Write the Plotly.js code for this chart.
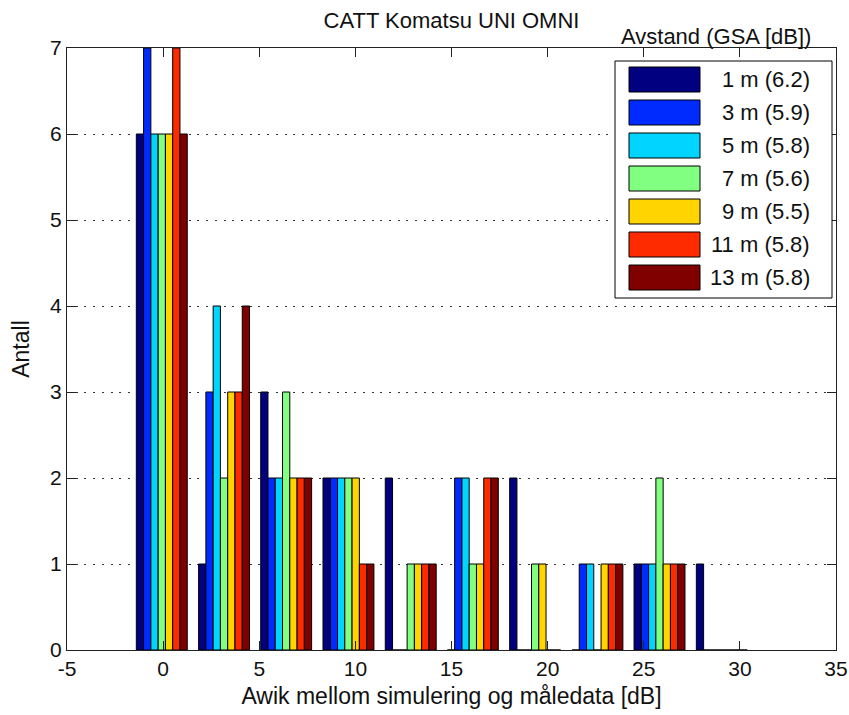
<!DOCTYPE html>
<html>
<head>
<meta charset="utf-8">
<script src="https://cdn.plot.ly/plotly-3.0.1.min.js"></script>
<style>html,body{margin:0;padding:0;background:#fff;}#chart{width:849px;height:715px;}</style>
</head>
<body>
<div id="chart"></div>
<script>
// Bin centres (dB deviation)
var binCenters = [-0.07, 3.17, 6.40, 9.64, 12.88, 16.11, 19.35, 22.59, 25.82, 29.06];
// Series names (distance and GSA)
var seriesNames = ["1 m (6.2)", "3 m (5.9)", "5 m (5.8)", "7 m (5.6)", "9 m (5.5)", "11 m (5.8)", "13 m (5.8)"];
var seriesColors = ["#000080", "#002BFF", "#00D4FF", "#80FF80", "#FFD400", "#FF2B00", "#800000"];
// Counts per bin for each series
var count1m  = [6, 1, 3, 2, 2, 0, 2, 0, 1, 1];
var count3m  = [7, 3, 2, 2, 0, 2, 0, 1, 1, 0];
var count5m  = [6, 4, 2, 2, 0, 2, 0, 1, 1, 0];
var count7m  = [6, 2, 3, 2, 1, 1, 1, 0, 2, 0];
var count9m  = [6, 3, 2, 2, 1, 1, 1, 1, 1, 0];
var count11m = [7, 3, 2, 1, 1, 2, 0, 1, 1, 0];
var count13m = [6, 4, 2, 1, 1, 2, 0, 1, 1, 0];
var allCounts = [count1m, count3m, count5m, count7m, count9m, count11m, count13m];
var xTicks = [-5, 0, 5, 10, 15, 20, 25, 30, 35];
var yTicks = [0, 1, 2, 3, 4, 5, 6, 7];

var FONT = "Liberation Sans, Arial, Helvetica, sans-serif";
var TXT = "#111";

var traces = seriesNames.map(function (name, i) {
  return {
    type: "bar",
    name: name,
    x: binCenters,
    y: allCounts[i],
    marker: { color: seriesColors[i], line: { color: "#000", width: 1 } },
    showlegend: false,
    hoverinfo: "x+y+name"
  };
});

// plot area in pixels
var L = 67, R = 836, T = 48, B = 650, W = 849, H = 715;
function px2x(px) { return (px - L) / (R - L); }
function px2y(py) { return (B - py) / (B - T); }

var shapes = [];
var annotations = [];
// legend box
shapes.push({ type: "rect", xref: "paper", yref: "paper", layer: "above",
  x0: px2x(615), x1: px2x(832), y0: px2y(298), y1: px2y(61),
  line: { color: "#000", width: 1 }, fillcolor: "#fff" });
seriesNames.forEach(function (name, i) {
  var cy = 79.5 + 33 * i;
  shapes.push({ type: "rect", xref: "paper", yref: "paper", layer: "above",
    x0: px2x(629), x1: px2x(700), y0: px2y(cy + 12.5), y1: px2y(cy - 12.5),
    line: { color: "#000", width: 1 }, fillcolor: seriesColors[i] });
  annotations.push({ xref: "paper", yref: "paper", x: px2x(812), y: px2y(cy),
    xanchor: "right", yanchor: "middle", showarrow: false, text: name,
    font: { family: FONT, size: 22, color: TXT } });
});
annotations.push({ xref: "paper", yref: "paper", x: px2x(716), y: px2y(36),
  xanchor: "center", yanchor: "middle", showarrow: false, text: "Avstand (GSA [dB])",
  font: { family: FONT, size: 22, color: TXT } });

var layout = {
  width: W, height: H,
  margin: { l: L, r: W - R, t: T, b: H - B, pad: 0 },
  paper_bgcolor: "#fff", plot_bgcolor: "#fff",
  font: { family: FONT, color: TXT, size: 21 },
  barmode: "group", bargap: 0.18, bargroupgap: 0,
  title: { text: "CATT Komatsu UNI OMNI", x: 0.5, xref: "paper", y: 1 - 20 / H, yref: "container",
    xanchor: "center", yanchor: "middle", font: { family: FONT, size: 22, color: TXT } },
  xaxis: {
    range: [-5, 35], tickvals: xTicks, ticktext: xTicks.map(String),
    showgrid: false, zeroline: false,
    showline: true, linecolor: "#222", linewidth: 1, mirror: "allticks",
    ticks: "inside", ticklen: 9, tickcolor: "#222", tickwidth: 1,
    tickfont: { family: FONT, size: 21, color: TXT },
    title: { text: "Awik mellom simulering og måledata [dB]", standoff: 8,
      font: { family: FONT, size: 23, color: TXT } },
    automargin: false, fixedrange: true
  },
  yaxis: {
    range: [0, 7], tickvals: yTicks, ticktext: yTicks.map(String),
    showgrid: true, gridcolor: "#333", gridwidth: 1, griddash: "2px,6.7px",
    zeroline: false,
    showline: true, linecolor: "#222", linewidth: 1, mirror: "allticks",
    ticks: "inside", ticklen: 9, tickcolor: "#222", tickwidth: 1,
    tickfont: { family: FONT, size: 21, color: TXT },
    title: { text: "Antall", standoff: 14, font: { family: FONT, size: 23, color: TXT } },
    automargin: false, fixedrange: true
  },
  shapes: shapes,
  annotations: annotations,
  showlegend: false
};

Plotly.newPlot("chart", traces, layout, { displayModeBar: false, staticPlot: true });
</script>
</body>
</html>
